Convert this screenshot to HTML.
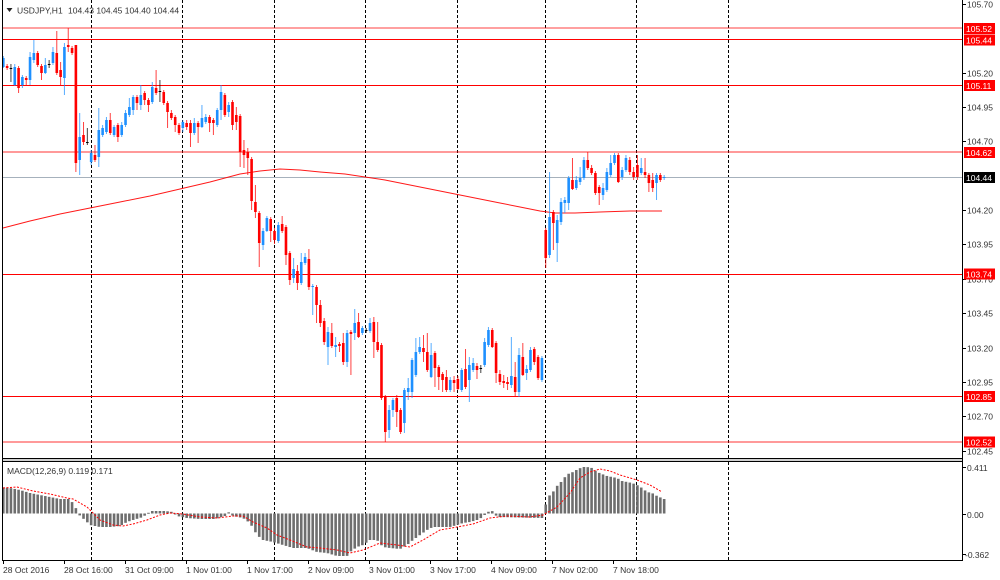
<!DOCTYPE html>
<html><head><meta charset="utf-8">
<style>
html,body{margin:0;padding:0;background:#fff;}
svg{display:block;}
text{font-family:"Liberation Sans",sans-serif;}
</style></head>
<body>
<svg id="c" width="1000" height="580" viewBox="0 0 1000 580" xmlns="http://www.w3.org/2000/svg">
<rect x="0" y="0" width="1000" height="580" fill="#fff"/>
<!-- grid -->
<g stroke="#000" stroke-width="1" stroke-dasharray="3,2">
<line x1="91.5" y1="0" x2="91.5" y2="458"/><line x1="91.5" y1="462" x2="91.5" y2="560"/>
<line x1="182.5" y1="0" x2="182.5" y2="458"/><line x1="182.5" y1="462" x2="182.5" y2="560"/>
<line x1="274.5" y1="0" x2="274.5" y2="458"/><line x1="274.5" y1="462" x2="274.5" y2="560"/>
<line x1="365.5" y1="0" x2="365.5" y2="458"/><line x1="365.5" y1="462" x2="365.5" y2="560"/>
<line x1="457.5" y1="0" x2="457.5" y2="458"/><line x1="457.5" y1="462" x2="457.5" y2="560"/>
<line x1="545.5" y1="0" x2="545.5" y2="458"/><line x1="545.5" y1="462" x2="545.5" y2="560"/>
<line x1="636.5" y1="0" x2="636.5" y2="458"/><line x1="636.5" y1="462" x2="636.5" y2="560"/>
<line x1="728.5" y1="0" x2="728.5" y2="458"/><line x1="728.5" y1="462" x2="728.5" y2="560"/>
</g>
<!-- horizontal levels -->
<g stroke="#ff0000" stroke-width="1">
<line x1="2" y1="28" x2="962" y2="28" stroke-opacity="0.75"/>
<line x1="2" y1="39.5" x2="962" y2="39.5"/>
<line x1="2" y1="85.5" x2="962" y2="85.5"/>
<line x1="2" y1="152" x2="962" y2="152" stroke-opacity="0.8"/>
<line x1="2" y1="274.5" x2="962" y2="274.5"/>
<line x1="2" y1="396.5" x2="962" y2="396.5"/>
<line x1="2" y1="442" x2="962" y2="442" stroke-opacity="0.8"/>
</g>
<line x1="2" y1="177.5" x2="962" y2="177.5" stroke="#a6b1bc" stroke-width="1"/>
<g id="dyn"></g>
<!-- frame -->
<rect x="3" y="459" width="959" height="2" fill="#d0d0d0"/>
<g stroke="#000" stroke-width="1">
<line x1="2.5" y1="0" x2="2.5" y2="561"/>
<line x1="962.5" y1="0" x2="962.5" y2="561"/>
<line x1="2" y1="458.5" x2="963" y2="458.5"/>
<line x1="2" y1="461.5" x2="963" y2="461.5"/>
<line x1="2" y1="560.5" x2="963" y2="560.5"/>
</g>
<!-- right ticks -->
<g stroke="#000" stroke-width="1">
<line x1="963" y1="4.5" x2="966" y2="4.5"/>
<line x1="963" y1="73.5" x2="966" y2="73.5"/>
<line x1="963" y1="107.5" x2="966" y2="107.5"/>
<line x1="963" y1="141.5" x2="966" y2="141.5"/>
<line x1="963" y1="210.5" x2="966" y2="210.5"/>
<line x1="963" y1="244.5" x2="966" y2="244.5"/>
<line x1="963" y1="279.5" x2="966" y2="279.5"/>
<line x1="963" y1="313.5" x2="966" y2="313.5"/>
<line x1="963" y1="348.5" x2="966" y2="348.5"/>
<line x1="963" y1="382.5" x2="966" y2="382.5"/>
<line x1="963" y1="416.5" x2="966" y2="416.5"/>
<line x1="963" y1="451.5" x2="966" y2="451.5"/>
<line x1="963" y1="467.5" x2="966" y2="467.5"/>
<line x1="963" y1="514.5" x2="966" y2="514.5"/>
<line x1="963" y1="554.5" x2="966" y2="554.5"/>
<line x1="3.5" y1="561" x2="3.5" y2="564"/>
<line x1="64.5" y1="561" x2="64.5" y2="564"/>
<line x1="125.5" y1="561" x2="125.5" y2="564"/>
<line x1="186.5" y1="561" x2="186.5" y2="564"/>
<line x1="247.5" y1="561" x2="247.5" y2="564"/>
<line x1="308.5" y1="561" x2="308.5" y2="564"/>
<line x1="369.5" y1="561" x2="369.5" y2="564"/>
<line x1="430.5" y1="561" x2="430.5" y2="564"/>
<line x1="491.5" y1="561" x2="491.5" y2="564"/>
<line x1="552.5" y1="561" x2="552.5" y2="564"/>
<line x1="613.5" y1="561" x2="613.5" y2="564"/>
</g>
<g font-size="8.5" fill="#333">
<text x="967" y="7.5">105.70</text>
<text x="967" y="76.5">105.20</text>
<text x="967" y="110.5">104.95</text>
<text x="967" y="144.5">104.70</text>
<text x="967" y="213.5">104.20</text>
<text x="967" y="247.5">103.95</text>
<text x="967" y="282.5">103.70</text>
<text x="967" y="316.5">103.45</text>
<text x="967" y="351.5">103.20</text>
<text x="967" y="385.5">102.95</text>
<text x="967" y="419.5">102.70</text>
<text x="967" y="454.5">102.45</text>
<text x="967" y="471">0.411</text>
<text x="967" y="518">0.00</text>
<text x="965" y="558">-0.362</text>
<text x="3" y="573">28 Oct 2016</text>
<text x="64" y="573">28 Oct 16:00</text>
<text x="125" y="573">31 Oct 09:00</text>
<text x="186" y="573">1 Nov 01:00</text>
<text x="247" y="573">1 Nov 17:00</text>
<text x="308" y="573">2 Nov 09:00</text>
<text x="369" y="573">3 Nov 01:00</text>
<text x="430" y="573">3 Nov 17:00</text>
<text x="491" y="573">4 Nov 09:00</text>
<text x="552" y="573">7 Nov 02:00</text>
<text x="613" y="573">7 Nov 18:00</text>
<text x="7" y="474">MACD(12,26,9) 0.119 0.171</text>
<text x="17" y="13.5">USDJPY,H1</text>
<text x="68" y="13.5">104.43 104.45 104.40 104.44</text>
</g>
<polygon points="6.5,8 12.5,8 9.5,12" fill="#222"/>
<!-- price boxes -->
<g font-size="8.5" fill="#fff">
<rect x="964" y="23" width="31" height="11" fill="#ff0000"/><text x="966" y="31.8">105.52</text>
<rect x="964" y="34.5" width="31" height="11" fill="#ff0000"/><text x="966" y="43.3">105.44</text>
<rect x="964" y="80" width="31" height="11" fill="#ff0000"/><text x="966" y="88.8">105.11</text>
<rect x="964" y="147" width="31" height="11" fill="#ff0000"/><text x="966" y="155.8">104.62</text>
<rect x="964" y="172" width="31" height="11" fill="#000"/><text x="966" y="180.8">104.44</text>
<rect x="964" y="268.5" width="31" height="11" fill="#ff0000"/><text x="966" y="277.3">103.74</text>
<rect x="964" y="391" width="31" height="11" fill="#ff0000"/><text x="966" y="399.8">102.85</text>
<rect x="964" y="436.5" width="31" height="11" fill="#ff0000"/><text x="966" y="445.3">102.52</text>
</g>
</svg>
<script>
(function(){
var C=[[67,56,68,58],[66,64,70,68],[68,64,82,68],[85,64,86,67],[68,66,93,88],[85,75,88,77],[78,76,85,80],[80,52,85,57],[60,40,63,53],[53,51,67,65],
[66,64,80,73],[73,58,74,65],[64,60,68,64],[63,47,65,52],[53,31,75,73],[70,62,85,77],[78,43,95,47],[45,28,52,47],[48,46,55,53],[45,45,172,163],
[160,113,175,137],[135,122,145,142],[142,128,145,142],[162,150,165,153],[155,145,162,160],[157,108,167,130],[135,125,137,128],[132,117,134,120],[120,113,135,133],[135,125,137,127],
[125,123,142,137],[135,122,137,125],[125,110,127,113],[115,98,117,107],[110,95,115,97],[97,95,110,103],[105,85,110,95],[93,91,105,100],[100,98,112,105],[102,82,104,87],
[88,70,95,93],[91,80,102,91],[92,90,105,103],[103,101,128,112],[113,110,120,118],[117,115,132,125],[125,123,135,133],[128,120,132,122],[123,120,130,127],[123,120,147,133],
[133,118,135,123],[123,121,143,127],[127,105,128,118],[122,114,124,117],[117,115,132,123],[120,118,135,123],[125,108,127,110],[110,85,120,92],[95,93,117,115],[112,102,117,105],
[102,100,130,125],[115,107,130,122],[116,114,167,152],[150,140,168,155],[152,148,175,158],[159,157,210,201],[202,185,218,212],[213,211,267,243],[245,228,250,231],[231,216,232,218],
[219,217,242,231],[231,228,244,240],[241,222,243,225],[224,216,233,231],[227,225,265,255],[253,251,285,280],[278,258,283,269],[271,265,290,283],[283,253,285,262],[263,253,265,257],
[259,249,290,287],[287,284,315,286],[287,285,323,305],[305,300,327,323],[321,318,345,342],[347,327,365,332],[333,323,348,346],[347,337,357,345],[344,342,352,346],[343,333,365,362],
[362,330,367,333],[332,330,375,334],[333,309,340,323],[322,313,338,337],[333,326,335,328],[330,328,333,330],[331,318,333,323],[322,317,358,342],[342,322,352,350],[345,343,400,398],
[397,395,442,432],[430,405,438,410],[410,398,417,400],[398,395,427,412],[410,408,434,432],[423,388,433,390],[392,378,400,388],[392,358,398,360],[375,338,377,352],[352,337,354,347],
[348,335,362,352],[352,333,372,370],[377,343,378,355],[353,351,387,368],[367,365,390,377],[374,372,392,380],[377,370,392,390],[390,377,392,380],[380,376,392,383],[379,376,390,389],
[390,368,392,370],[369,349,389,387],[380,357,402,365],[370,358,372,363],[366,363,379,370],[368,365,373,368],[365,338,367,342],[345,327,347,330],[330,328,348,347],[343,341,383,373],
[374,370,385,382],[381,375,388,383],[382,377,390,384],[385,337,388,376],[377,362,397,392],[392,348,397,355],[357,343,376,375],[373,365,380,369],[370,347,372,350],[349,347,365,362],
[357,355,380,378],[380,356,382,358],[230,228,268,258],[255,172,258,217],[212,210,250,223],[243,215,262,220],[222,198,225,202],[203,197,213,200],[203,176,210,178],[180,158,190,189],
[188,176,190,180],[182,167,185,178],[178,157,180,160],[160,152,170,168],[168,165,175,173],[173,171,195,193],[187,185,205,193],[195,183,200,188],[190,168,192,172],[175,155,177,163],
[163,153,165,155],[155,153,183,182],[177,167,180,170],[170,155,172,158],[160,157,175,172],[172,167,180,177],[165,155,180,177],[173,158,175,168],[172,158,178,175],[175,173,192,183],
[180,173,192,188],[183,173,200,175],[175,173,182,180],[178,175,180,177]];
var H=[[0,487],[10,488],[20,490],[30,493],[40,495],[50,497],[60,499],[70,499],[74,505],[77,510],[80,516],[85,520],[90,525],[100,527],[110,527],[120,526],[127,522],[133,520],[143,517],[148,513],[152,511],[165,511],[173,512],[177,516],[187,518],[200,519],[215,519],[225,516],[229,512],[233,516],[243,518],[250,523],[257,535],[263,540],[273,542],[283,545],[293,548],[307,548],[317,552],[327,553],[337,556],[347,556],[350,552],[357,547],[363,545],[370,540],[377,540],[383,547],[390,548],[400,549],[407,545],[413,540],[420,535],[427,530],[433,527],[450,527],[457,525],[463,523],[470,522],[477,520],[483,517],[487,512],[493,511],[497,517],[543,518],[545,507],[548,497],[553,492],[557,486],[561,482],[565,477],[568,474],[573,472],[578,469],[583,467],[587,467],[592,468],[597,472],[602,474],[607,476],[612,477],[617,478],[622,481],[627,482],[632,483],[637,485],[642,488],[647,492],[652,493],[657,496],[664,499]];
var S=[[3,488],[17,487],[33,491],[50,494],[67,498],[73,499],[87,507],[100,520],[113,525],[123,526],[133,524],[147,520],[160,515],[170,513],[183,514],[200,517],[217,518],[233,516],[243,516],[253,522],[267,528],[277,535],[290,540],[307,547],[320,548],[337,550],[350,553],[363,550],[380,543],[397,545],[410,547],[423,540],[440,530],[457,527],[473,524],[490,518],[507,516],[530,517],[543,515],[557,507],[570,493],[580,478],[590,472],[600,469],[610,471],[620,475],[637,480],[650,485],[662,492]];
var M=[[3,228],[30,221],[60,214],[90,208],[120,202],[150,196],[180,189],[210,182],[240,174],[260,171],[280,169],[300,170],[320,172],[345,174],[365,177],[385,180],[400,183],[425,188],[450,193],[475,198],[500,203],[520,207],[540,211],[555,213],[575,213],[600,212],[630,211],[662,211]];
function X(i){return 3.3+i*3.82;}
function interp(p,x){if(x<=p[0][0])return p[0][1];for(var k=1;k<p.length;k++){if(x<=p[k][0]){var a=p[k-1],b=p[k];return a[1]+(b[1]-a[1])*(x-a[0])/(b[0]-a[0]);}}return p[p.length-1][1];}
var s='';
// histogram
for(var i=0;i<C.length;i++){var x=X(i);var y=interp(H,x);var z=513.5;var t=Math.min(y,z),h=Math.max(Math.abs(y-z),1);
s+='<rect x="'+(x-1.3).toFixed(2)+'" y="'+t.toFixed(2)+'" width="2.6" height="'+h.toFixed(2)+'" fill="#6e6e6e"/>';}
// signal
var pts=S.map(function(p){return p[0]+','+p[1];}).join(' ');
s+='<polyline points="'+pts+'" fill="none" stroke="#ff0000" stroke-width="1" stroke-dasharray="2,1.5"/>';
// MA
var mp=M.map(function(p){return p[0]+','+p[1];}).join(' ');
s+='<polyline points="'+mp+'" fill="none" stroke="#ff0000" stroke-width="1" stroke-opacity="0.9"/>';
// candles
for(var i=0;i<C.length;i++){var d=C[i],o=d[0],h=d[1],l=d[2],c=d[3],x=X(i);
var col=c<o?'#1e90ff':(c>o?'#ff0000':'#000');
s+='<line x1="'+x.toFixed(2)+'" y1="'+h+'" x2="'+x.toFixed(2)+'" y2="'+l+'" stroke="'+col+'" stroke-width="1" stroke-opacity="0.75"/>';
var top=Math.min(o,c),bh=Math.max(Math.abs(o-c),1);
s+='<rect x="'+(x-1.3).toFixed(2)+'" y="'+top+'" width="2.6" height="'+bh+'" fill="'+col+'"/>';}
document.getElementById('dyn').innerHTML=s;
})();
</script>
</body></html>
